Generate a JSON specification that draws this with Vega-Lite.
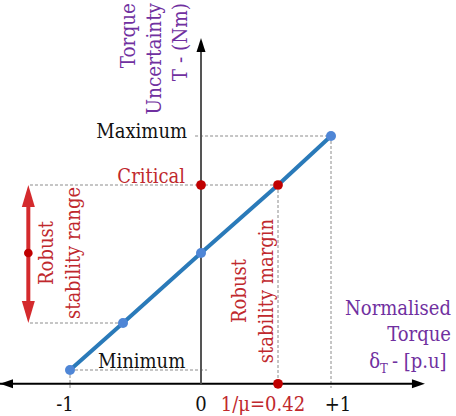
{
  "$schema": "https://vega.github.io/schema/vega-lite/v6.json",
  "width": 456,
  "height": 416,
  "autosize": {"type": "none"},
  "padding": 0,
  "background": "white",
  "config": {"view": {"stroke": null}, "text": {"font": "DejaVu Serif Condensed"}},
  "datasets": {
    "curve": [
      {"x": -1, "y": -1},
      {"x": -0.42, "y": -0.42},
      {"x": 0, "y": 0},
      {"x": 0.42, "y": 0.42},
      {"x": 1, "y": 1}
    ],
    "bluePts": [
      {"x": -1, "y": -1},
      {"x": -0.42, "y": -0.42},
      {"x": 0, "y": 0},
      {"x": 1, "y": 1}
    ],
    "redPts": [
      {"x": 0.42, "y": 0.42},
      {"x": 0, "y": 0.42},
      {"x": 0.42, "y": -1.17}
    ],
    "guides": [
      {"x": -0.032, "x2": 1, "y": 1, "y2": 1},
      {"x": 1, "x2": 1, "y": 1, "y2": -1.222},
      {"x": -1.438, "x2": 0.42, "y": 0.42, "y2": 0.42},
      {"x": 0.42, "x2": 0.42, "y": 0.42, "y2": -1.222},
      {"x": -1.438, "x2": -0.42, "y": -0.42, "y2": -0.42},
      {"x": -1, "x2": 0.033, "y": -1, "y2": -1},
      {"x": -1, "x2": -1, "y": -1, "y2": -1.222}
    ],
    "xAxis": [{"x": -1.766, "x2": 1.974, "y": -1.17, "y2": -1.17}],
    "yAxis": [{"x": 0, "x2": 0, "y": -1.17, "y2": 2.039}],
    "arrowRight": [{"x": 2.028, "y": -1.17}],
    "arrowLeft": [{"x": -1.766, "y": -1.17}],
    "arrowUp": [{"x": 0, "y": 2.184}],
    "rangeShaft": [{"x": -1.456, "x2": -1.456, "y": 0.33, "y2": -0.33}],
    "rangeTop": [{"x": -1.456, "y": 0.42}],
    "rangeBottom": [{"x": -1.456, "y": -0.42}],
    "rangeDot": [{"x": -1.456, "y": 0}],
    "levelRightBlack": [{"x": -0.075, "y": 1, "label": "Maximum"}],
    "levelRightRed": [{"x": -0.086, "y": 0.42, "label": "Critical"}],
    "levelLeft": [{"x": -0.694, "y": -1, "label": "Minimum"}],
    "ticks": [
      {"x": -1.055, "y": -1.17, "label": "-1"},
      {"x": 0, "y": -1.17, "label": "0"},
      {"x": 1.077, "y": -1.17, "label": "+1"}
    ],
    "tickRed": [{"x": 0.338, "y": -1.17, "label": "1/μ=0.42"}],
    "yTitle": [{"x": -0.355, "y": 2.606, "label": ["Torque", "Uncertainty", "T - (Nm)"]}],
    "xTitle": [{"x": 2.313, "y": -0.372, "label": ["Normalised", "Torque"]}],
    "xTitleDelta": [{"x": 1.536, "y": -0.975, "label": "δ"}],
    "xTitleSub": [{"x": 1.536, "y": -1.037, "label": "T"}],
    "xTitleUnit": [{"x": 1.667, "y": -0.975, "label": "- [p.u]"}],
    "rangeNote": [{"x": -1.191, "y": 0, "label": ["Robust", "stability range"]}],
    "marginNote": [{"x": 0.245, "y": -0.228, "label": ["Robust", "stability margin"]}]
  },
  "encoding": {
    "x": {
      "field": "x",
      "type": "quantitative",
      "axis": null,
      "scale": {
        "domain": [-1.766, -1, -0.42, 0, 0.42, 1, 2.368],
        "range": [0, 70, 123, 201, 278, 331, 456],
        "zero": false,
        "nice": false
      }
    },
    "y": {
      "field": "y",
      "type": "quantitative",
      "axis": null,
      "scale": {
        "domain": [-1.568, -1, -0.42, 0, 0.42, 1, 2.642],
        "range": [416, 370, 323, 253, 185, 136, 0],
        "zero": false,
        "nice": false
      }
    }
  },
  "layer": [
    {
      "data": {"name": "guides"},
      "mark": {"type": "rule", "color": "#8c8c8c", "strokeWidth": 1, "strokeDash": [3, 2]},
      "encoding": {"x2": {"field": "x2"}, "y2": {"field": "y2"}}
    },
    {
      "data": {"name": "xAxis"},
      "mark": {"type": "rule", "color": "#000000", "strokeWidth": 1.8},
      "encoding": {"x2": {"field": "x2"}, "y2": {"field": "y2"}}
    },
    {
      "data": {"name": "yAxis"},
      "mark": {"type": "rule", "color": "#555555", "strokeWidth": 2},
      "encoding": {"x2": {"field": "x2"}, "y2": {"field": "y2"}}
    },
    {
      "data": {"name": "arrowRight"},
      "mark": {"type": "point", "shape": "M0,0L-13,-4.5L-13,4.5Z", "size": 4, "filled": true, "color": "#000000", "opacity": 1, "strokeWidth": 0}
    },
    {
      "data": {"name": "arrowLeft"},
      "mark": {"type": "point", "shape": "M0,0L13,-4.5L13,4.5Z", "size": 4, "filled": true, "color": "#000000", "opacity": 1, "strokeWidth": 0}
    },
    {
      "data": {"name": "arrowUp"},
      "mark": {"type": "point", "shape": "M0,0L-4.5,14L4.5,14Z", "size": 4, "filled": true, "color": "#000000", "opacity": 1, "strokeWidth": 0}
    },
    {
      "data": {"name": "curve"},
      "mark": {"type": "line", "color": "#2a7ab9", "strokeWidth": 4}
    },
    {
      "data": {"name": "bluePts"},
      "mark": {"type": "point", "shape": "circle", "size": 100, "filled": true, "color": "#4f86d6", "opacity": 1}
    },
    {
      "data": {"name": "redPts"},
      "mark": {"type": "point", "shape": "circle", "size": 95, "filled": true, "color": "#c00000", "opacity": 1}
    },
    {
      "data": {"name": "rangeShaft"},
      "mark": {"type": "rule", "color": "#d42a2d", "strokeWidth": 4},
      "encoding": {"x2": {"field": "x2"}, "y2": {"field": "y2"}}
    },
    {
      "data": {"name": "rangeTop"},
      "mark": {"type": "point", "shape": "M0,0L6.5,22L-6.5,22Z", "size": 4, "filled": true, "color": "#d42a2d", "opacity": 1, "strokeWidth": 0}
    },
    {
      "data": {"name": "rangeBottom"},
      "mark": {"type": "point", "shape": "M0,0L6.5,-22L-6.5,-22Z", "size": 4, "filled": true, "color": "#d42a2d", "opacity": 1, "strokeWidth": 0}
    },
    {
      "data": {"name": "rangeDot"},
      "mark": {"type": "point", "shape": "circle", "size": 75, "filled": true, "color": "#c00000", "opacity": 1}
    },
    {
      "data": {"name": "levelRightBlack"},
      "mark": {"type": "text", "font": "DejaVu Serif Condensed", "fontSize": 20, "color": "#111111", "align": "right", "baseline": "alphabetic", "dy": 2},
      "encoding": {"text": {"field": "label"}}
    },
    {
      "data": {"name": "levelRightRed"},
      "mark": {"type": "text", "font": "DejaVu Serif Condensed", "fontSize": 20, "color": "#c0282d", "align": "right", "baseline": "alphabetic", "dy": -2},
      "encoding": {"text": {"field": "label"}}
    },
    {
      "data": {"name": "levelLeft"},
      "mark": {"type": "text", "font": "DejaVu Serif Condensed", "fontSize": 20, "color": "#111111", "align": "left", "baseline": "alphabetic", "dy": -2},
      "encoding": {"text": {"field": "label"}}
    },
    {
      "data": {"name": "ticks"},
      "mark": {"type": "text", "font": "DejaVu Serif Condensed", "fontSize": 20, "color": "#111111", "align": "center", "baseline": "alphabetic", "dy": 27},
      "encoding": {"text": {"field": "label"}}
    },
    {
      "data": {"name": "tickRed"},
      "mark": {"type": "text", "font": "DejaVu Serif Condensed", "fontSize": 20, "color": "#c0282d", "align": "center", "baseline": "alphabetic", "dy": 27},
      "encoding": {"text": {"field": "label"}}
    },
    {
      "data": {"name": "yTitle"},
      "mark": {"type": "text", "font": "DejaVu Serif Condensed", "fontSize": 20.5, "color": "#7030a0", "align": "right", "baseline": "alphabetic", "angle": 270, "lineHeight": 26},
      "encoding": {"text": {"field": "label"}}
    },
    {
      "data": {"name": "xTitle"},
      "mark": {"type": "text", "font": "DejaVu Serif Condensed", "fontSize": 20, "color": "#7030a0", "align": "right", "baseline": "alphabetic", "lineHeight": 26},
      "encoding": {"text": {"field": "label"}}
    },
    {
      "data": {"name": "xTitleDelta"},
      "mark": {"type": "text", "font": "DejaVu Serif Condensed", "fontSize": 20, "color": "#7030a0", "align": "right", "baseline": "alphabetic"},
      "encoding": {"text": {"field": "label"}}
    },
    {
      "data": {"name": "xTitleSub"},
      "mark": {"type": "text", "font": "DejaVu Serif Condensed", "fontSize": 13, "color": "#7030a0", "align": "left", "baseline": "alphabetic"},
      "encoding": {"text": {"field": "label"}}
    },
    {
      "data": {"name": "xTitleUnit"},
      "mark": {"type": "text", "font": "DejaVu Serif Condensed", "fontSize": 20, "color": "#7030a0", "align": "left", "baseline": "alphabetic"},
      "encoding": {"text": {"field": "label"}}
    },
    {
      "data": {"name": "rangeNote"},
      "mark": {"type": "text", "font": "DejaVu Serif Condensed", "fontSize": 20, "color": "#c0282d", "align": "center", "baseline": "alphabetic", "angle": 270, "lineHeight": 27},
      "encoding": {"text": {"field": "label"}}
    },
    {
      "data": {"name": "marginNote"},
      "mark": {"type": "text", "font": "DejaVu Serif Condensed", "fontSize": 20, "color": "#c0282d", "align": "center", "baseline": "alphabetic", "angle": 270, "lineHeight": 27},
      "encoding": {"text": {"field": "label"}}
    }
  ]
}
